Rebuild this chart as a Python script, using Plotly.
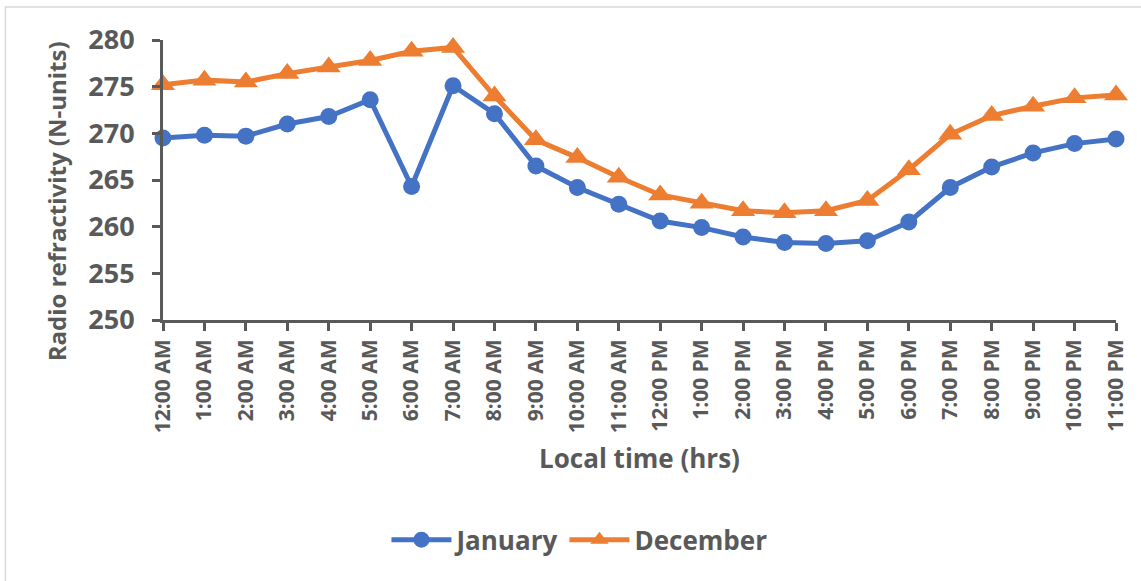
import plotly.graph_objects as go

hours = ["12:00 AM", "1:00 AM", "2:00 AM", "3:00 AM", "4:00 AM", "5:00 AM", "6:00 AM",
         "7:00 AM", "8:00 AM", "9:00 AM", "10:00 AM", "11:00 AM", "12:00 PM", "1:00 PM",
         "2:00 PM", "3:00 PM", "4:00 PM", "5:00 PM", "6:00 PM", "7:00 PM", "8:00 PM",
         "9:00 PM", "10:00 PM", "11:00 PM"]
january = [269.5, 269.8, 269.7, 271.0, 271.8, 273.6, 264.3, 275.1, 272.1, 266.5, 264.2, 262.4,
           260.6, 259.9, 258.9, 258.3, 258.2, 258.5, 260.5, 264.2, 266.4, 267.9, 268.9, 269.4]
december = [275.2, 275.7, 275.5, 276.4, 277.1, 277.8, 278.8, 279.2, 274.0, 269.3, 267.4, 265.3,
            263.4, 262.5, 261.7, 261.5, 261.7, 262.8, 266.1, 269.9, 271.9, 272.9, 273.8, 274.1]
y_ticks = [250, 255, 260, 265, 270, 275, 280]

x_idx = list(range(len(hours)))
gray = "#595959"
font = "Open Sans"

fig = go.Figure()
fig.add_trace(go.Scatter(x=x_idx, y=january, name="January", mode="lines+markers",
                         line=dict(color="#4472C4", width=5),
                         marker=dict(symbol="circle", size=17, color="#4472C4"),
                         cliponaxis=False))
fig.add_trace(go.Scatter(x=x_idx, y=december, name="December", mode="lines+markers",
                         line=dict(color="#ED7D31", width=5),
                         marker=dict(symbol="triangle-up", size=21, color="#ED7D31"),
                         cliponaxis=False))

fig.update_layout(
    width=1141, height=581,
    margin=dict(l=163, r=23, t=40, b=261),
    paper_bgcolor="white", plot_bgcolor="white",
    font=dict(family=font, color=gray),
    showlegend=True,
    legend=dict(orientation="h", x=0.437, xanchor="center", y=-0.785, yanchor="middle",
                font=dict(size=26, family=font, color=gray, weight="bold"),
                itemwidth=60, traceorder="normal"),
    xaxis=dict(range=[0, 23], tickvals=x_idx, ticktext=hours, tickangle=-90,
               showgrid=False, zeroline=False, showline=True, linecolor=gray, linewidth=3,
               ticks="outside", ticklen=8, tickwidth=3, tickcolor=gray,
               tickfont=dict(size=21, family=font, color=gray, weight="bold"),
               title=dict(text="Local time (hrs)", standoff=18,
                          font=dict(size=26, family=font, color=gray, weight="bold"))),
    yaxis=dict(range=[250, 280], tickvals=y_ticks, showgrid=False, zeroline=False,
               showline=True, linecolor=gray, linewidth=3,
               ticks="outside", ticklen=8, tickwidth=3, tickcolor=gray,
               ticklabelstandoff=12,
               tickfont=dict(size=27, family=font, color=gray, weight="bold")),
    annotations=[dict(text="Radio refractivity (N-units)", textangle=-90,
                      xref="paper", yref="paper", x=-0.112, y=0.425,
                      xanchor="center", yanchor="middle", showarrow=False,
                      font=dict(size=24, family=font, color=gray, weight="bold"))],
    shapes=[dict(type="rect", xref="paper", yref="paper",
                 x0=-0.1654, x1=1.03, y0=-0.95, y1=1.118,
                 line=dict(color="#D9D9D9", width=1.5), fillcolor="rgba(0,0,0,0)", layer="below")],
)

fig.write_html("out.html", config={"displayModeBar": False},
               post_script="document.body.style.margin='0';document.body.style.overflow='hidden';")
